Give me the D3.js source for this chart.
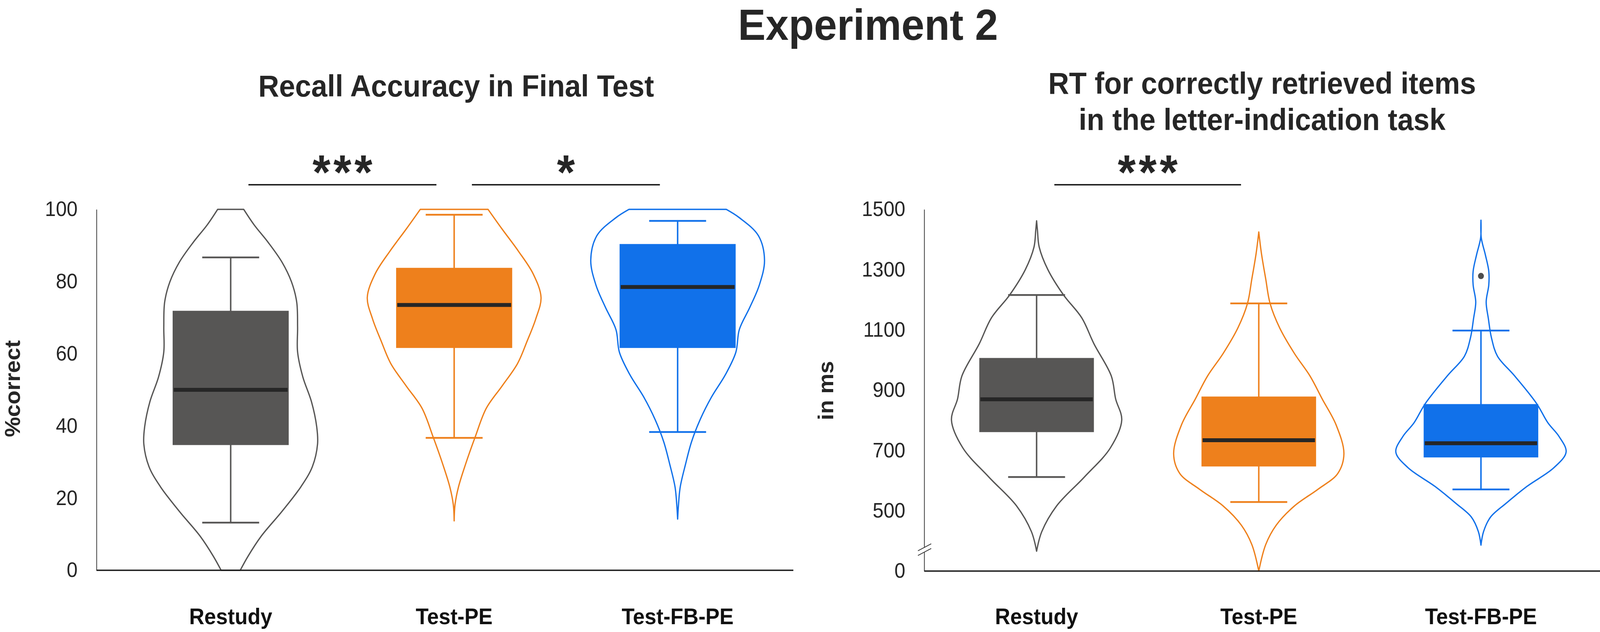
<!DOCTYPE html>
<html>
<head>
<meta charset="utf-8">
<script src="https://cdn.jsdelivr.net/npm/d3@7"></script>
<style>
  html, body { margin: 0; padding: 0; background: #fff; overflow: hidden; }
  #chart { display: block; width: 100vw; height: 100vh; }
  text { font-family: "Liberation Sans", Arial, sans-serif; }
</style>
</head>
<body>
<svg id="chart"></svg>
<script>
// groups shown on both panels
const groups = ["Restudy", "Test-PE", "Test-FB-PE"]

// ---- Recall accuracy (%correct) ----
const accLow    = [13.2, 36.7, 38.3]
const accQ1     = [34.7, 61.6, 61.6]
const accMedian = [50.0, 73.5, 78.5]
const accQ3     = [71.9, 83.8, 90.4]
const accHigh   = [86.7, 98.5, 96.8]
const accTicks  = [0, 20, 40, 60, 80, 100]

// violin outlines: level and relative density
const accRestudyLevels = [100, 95.7, 90.9, 85.4, 79.9, 74.3, 67.4, 60.5, 53.6, 46.7, 39.8, 35, 28.7, 23.2, 16.3, 9.4, 3.9, 0]
const accRestudyDens   = [0.15, 0.27, 0.43, 0.59, 0.70, 0.76, 0.77, 0.77, 0.83, 0.93, 0.99, 1.00, 0.94, 0.81, 0.59, 0.35, 0.20, 0.11]
const accTestLevels    = [100, 94.6, 88.4, 82.1, 75.6, 69.7, 63.5, 57.3, 51, 44.9, 36.8, 29.3, 23.1, 18.2, 13.7]
const accTestDens      = [0.39, 0.55, 0.74, 0.91, 1.00, 0.94, 0.84, 0.73, 0.55, 0.37, 0.24, 0.13, 0.05, 0.01, 0]
const accFbLevels      = [100, 97.7, 92.7, 85.9, 79, 72.8, 66.7, 60.4, 54.2, 48, 41.8, 35.6, 29.3, 23.1, 18.2, 14.2]
const accFbDens        = [0.56, 0.71, 0.93, 1.00, 0.94, 0.83, 0.71, 0.67, 0.55, 0.39, 0.26, 0.16, 0.09, 0.03, 0.01, 0]

// ---- RT for correctly retrieved items (ms) ----
const rtLow    = [612, 529, 571]
const rtQ1     = [761, 647, 677]
const rtMedian = [870, 734, 724]
const rtQ3     = [1007, 879, 854]
const rtHigh   = [1216, 1188, 1098]
const rtOutliers = [[], [], [1279]]
const rtTicks  = [300, 500, 700, 900, 1100, 1300, 1500]   // lowest tick is shown as 0 (broken axis)

const rtRestudyLevels = [1462, 1430, 1375, 1300, 1216, 1140, 1054, 947, 871, 801, 709, 612, 516, 431, 366]
const rtRestudyDens   = [0, 0.01, 0.03, 0.13, 0.31, 0.52, 0.66, 0.86, 0.91, 0.98, 0.85, 0.55, 0.23, 0.06, 0]
const rtTestLevels    = [1425, 1355, 1269, 1188, 1107, 1022, 947, 871, 785, 689, 624, 571, 516, 452, 388, 300]
const rtTestDens      = [0, 0.03, 0.08, 0.13, 0.24, 0.41, 0.59, 0.73, 0.89, 0.98, 0.91, 0.68, 0.41, 0.20, 0.08, 0]
const rtFbLevels      = [1464, 1405, 1350, 1295, 1249, 1193, 1138, 1075, 1013, 950, 856, 792, 746, 695, 643, 581, 525, 479, 431, 386]
const rtFbDens        = [0, 0.004, 0.05, 0.09, 0.09, 0.06, 0.085, 0.12, 0.19, 0.38, 0.64, 0.77, 0.90, 0.98, 0.84, 0.53, 0.29, 0.11, 0.03, 0]

// significance brackets
const accSig = [["Restudy", "Test-PE", "***"], ["Test-PE", "Test-FB-PE", "*"]]
const rtSig  = [["Restudy", "Test-PE", "***"]]

const colors = ["#575655", "#EE801C", "#1171EA"]
const inkColor = "#262626"

var width = 4328, height = 1618

// viewBox stretched over the whole window so the figure fills it edge to edge
var svg = d3.select("#chart")
  .attr("viewBox", `0 0 ${width} ${height}`)
  .attr("preserveAspectRatio", "none")

svg.append("text")
  .attr("x", 2348)
  .attr("y", 102)
  .attr("text-anchor", "middle")
  .style("font-size", "112px")
  .style("font-weight", "bold")
  .style("fill", inkColor)
  .text("Experiment 2")

function drawPanel(p) {
  var g = svg.append("g")

  var yScale = d3.scaleLinear().domain(p.domain).range([p.bottom, p.top])
  var xScale = d3.scalePoint().domain(groups).range(p.groupRange)
  var wScale = d3.scaleLinear().domain([0, 1]).range([0, 235])

  // title
  p.title.forEach((line, i) => {
    g.append("text")
      .attr("x", p.titleX)
      .attr("y", p.titleY + i * 93)
      .attr("text-anchor", "middle")
      .style("font-size", "78px")
      .style("font-weight", "bold")
      .style("fill", inkColor)
      .text(line)
  })

  // y axis
  var yAxis = d3.axisLeft(yScale)
    .tickValues(p.ticks)
    .tickSize(0)
    .tickPadding(51)
    .tickFormat(p.tickFormat)

  var yAxisG = g.append("g")
    .attr("transform", `translate(${p.x0},0)`)
    .call(yAxis)
  yAxisG.select(".domain").attr("stroke", "#333").attr("stroke-width", 2)
  yAxisG.selectAll("text")
    .style("font-size", "53px")
    .style("font-family", "'Liberation Sans', Arial, sans-serif")
    .attr("fill", inkColor)

  g.append("text")
    .attr("transform", `translate(${p.yLabelX},${p.yLabelY}) rotate(-90)`)
    .attr("text-anchor", "middle")
    .style("font-size", "58px")
    .style("font-weight", "bold")
    .style("fill", inkColor)
    .text(p.yLabel)

  // violins
  var area = d3.area()
    .y(d => yScale(d[0]))
    .curve(d3.curveCatmullRom)

  groups.forEach((grp, i) => {
    var cx = xScale(grp)
    var pts = d3.zip(p.levels[i], p.dens[i])
    g.append("path")
      .datum(pts)
      .attr("fill", "none")
      .attr("stroke", colors[i])
      .attr("stroke-width", 3.5)
      .attr("stroke-linejoin", "round")
      .attr("d", area.x0(d => cx - wScale(d[1])).x1(d => cx + wScale(d[1])))
  })

  // boxes
  var box = g.selectAll(".box")
    .data(groups)
    .enter()
    .append("g")
    .attr("class", "box")

  box.append("line")
    .attr("x1", d => xScale(d)).attr("x2", d => xScale(d))
    .attr("y1", (d, i) => yScale(p.low[i]))
    .attr("y2", (d, i) => yScale(p.high[i]))
    .attr("stroke", (d, i) => colors[i])
    .attr("stroke-width", 4)

  ;["low", "high"].forEach(k => {
    box.append("line")
      .attr("x1", d => xScale(d) - 77).attr("x2", d => xScale(d) + 77)
      .attr("y1", (d, i) => yScale(p[k][i]))
      .attr("y2", (d, i) => yScale(p[k][i]))
      .attr("stroke", (d, i) => colors[i])
      .attr("stroke-width", 4.5)
  })

  box.append("rect")
    .attr("x", d => xScale(d) - p.boxHalf)
    .attr("width", p.boxHalf * 2)
    .attr("y", (d, i) => yScale(p.q3[i]))
    .attr("height", (d, i) => yScale(p.q1[i]) - yScale(p.q3[i]))
    .attr("fill", (d, i) => colors[i])

  box.append("line")
    .attr("x1", d => xScale(d) - p.boxHalf + 3).attr("x2", d => xScale(d) + p.boxHalf - 3)
    .attr("y1", (d, i) => yScale(p.median[i]))
    .attr("y2", (d, i) => yScale(p.median[i]))
    .attr("stroke", "#262626")
    .attr("stroke-width", 10)

  if (p.outliers) {
    groups.forEach((grp, i) => {
      p.outliers[i].forEach(v => {
        g.append("circle")
          .attr("cx", xScale(grp))
          .attr("cy", yScale(v))
          .attr("r", 8)
          .attr("fill", "#4d4d4d")
      })
    })
  }

  // x axis
  g.append("line")
    .attr("x1", p.x0).attr("x2", p.x1)
    .attr("y1", yScale(p.domain[0])).attr("y2", yScale(p.domain[0]))
    .attr("stroke", "#1a1a1a")
    .attr("stroke-width", 3.5)

  g.selectAll(".xlab")
    .data(groups)
    .enter()
    .append("text")
    .attr("class", "xlab")
    .attr("x", d => xScale(d))
    .attr("y", 1598)
    .attr("text-anchor", "middle")
    .style("font-size", "57px")
    .style("font-weight", "bold")
    .style("fill", "#111")
    .text(d => d)

  // axis break
  if (p.breakValue) {
    var yb = yScale(p.breakValue)
    g.append("line")
      .attr("x1", p.x0).attr("x2", p.x0)
      .attr("y1", yb - 5).attr("y2", yb + 7)
      .attr("stroke", "#fff").attr("stroke-width", 5)
    ;[-6, 6].forEach(off => {
      g.append("line")
        .attr("x1", p.x0 - 17).attr("y1", yb + off + 9)
        .attr("x2", p.x0 + 19).attr("y2", yb + off - 9)
        .attr("stroke", "#333").attr("stroke-width", 2)
    })
  }

  // significance brackets
  p.sig.forEach(s => {
    var xa = xScale(s[0]) + 48, xb = xScale(s[1]) - 48
    g.append("line")
      .attr("x1", xa).attr("x2", xb)
      .attr("y1", 473).attr("y2", 473)
      .attr("stroke", "#111")
      .attr("stroke-width", 3.5)
    g.append("text")
      .attr("x", (xa + xb) / 2 + 4)
      .attr("y", 484)
      .attr("text-anchor", "middle")
      .style("font-size", "125px")
      .style("font-weight", "bold")
      .style("letter-spacing", "8px")
      .style("fill", inkColor)
      .text(s[2])
  })
}

drawPanel({
  title: ["Recall Accuracy in Final Test"],
  titleX: 1234, titleY: 247,
  domain: [0, 100], top: 536, bottom: 1460,
  ticks: accTicks, tickFormat: d => d,
  x0: 261, x1: 2146, groupRange: [624, 1833], boxHalf: 157,
  yLabel: "%correct", yLabelX: 54, yLabelY: 995,
  low: accLow, q1: accQ1, median: accMedian, q3: accQ3, high: accHigh,
  levels: [accRestudyLevels, accTestLevels, accFbLevels],
  dens: [accRestudyDens, accTestDens, accFbDens],
  sig: accSig
})

drawPanel({
  title: ["RT for correctly retrieved items", "in the letter-indication task"],
  titleX: 3414, titleY: 240,
  domain: [300, 1500], top: 536, bottom: 1462,
  ticks: rtTicks, tickFormat: d => d === 300 ? "0" : d,
  x0: 2500, x1: 4328, groupRange: [2804, 4006], boxHalf: 155,
  yLabel: "in ms", yLabelX: 2254, yLabelY: 1000,
  low: rtLow, q1: rtQ1, median: rtMedian, q3: rtQ3, high: rtHigh,
  outliers: rtOutliers,
  levels: [rtRestudyLevels, rtTestLevels, rtFbLevels],
  dens: [rtRestudyDens, rtTestDens, rtFbDens],
  sig: rtSig,
  breakValue: 371
})
</script>
</body>
</html>
